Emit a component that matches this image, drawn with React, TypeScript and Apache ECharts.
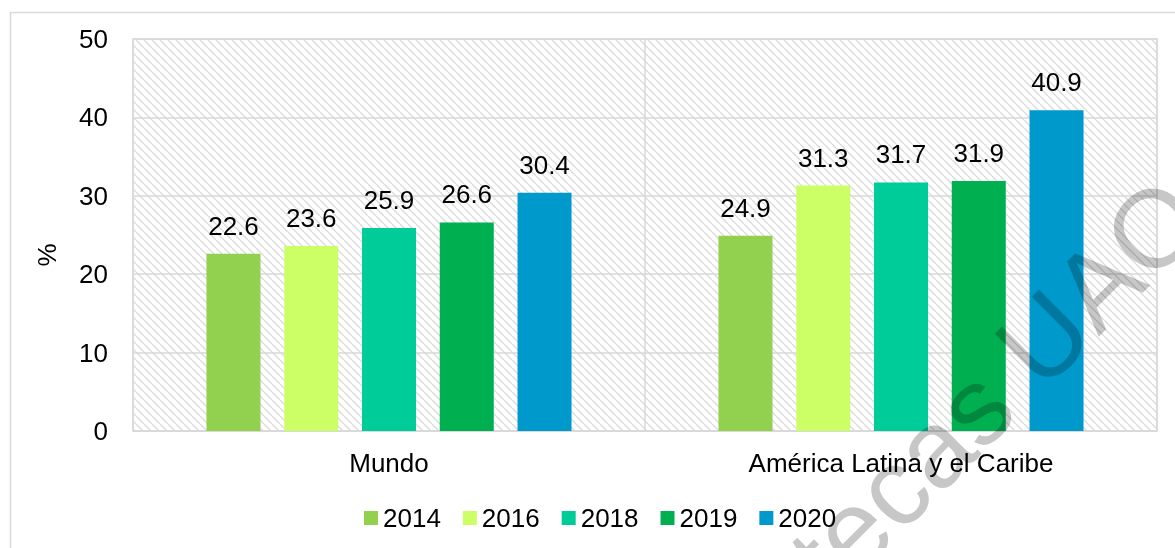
import React, { useEffect, useRef } from "react";
import * as echarts from "echarts";

const categories = ["Mundo", "América Latina y el Caribe"];
const years = ["2014", "2016", "2018", "2019", "2020"];
const v2014 = [22.6, 24.9];
const v2016 = [23.6, 31.3];
const v2018 = [25.9, 31.7];
const v2019 = [26.6, 31.9];
const v2020 = [30.4, 40.9];
const seriesValues = [v2014, v2016, v2018, v2019, v2020];
const colors = ["#92D050", "#CCFF66", "#00CC99", "#00B050", "#0099CC"];
const yTicks = [0, 10, 20, 30, 40, 50];

const FONT = "'Liberation Sans', Arial, sans-serif";

function hatchPattern(): string {
  const c = document.createElement("canvas");
  const s = 8;
  c.width = s;
  c.height = s;
  const ctx = c.getContext("2d")!;
  ctx.fillStyle = "#ffffff";
  ctx.fillRect(0, 0, s, s);
  ctx.strokeStyle = "#dcdcdc";
  ctx.lineWidth = 1.4;
  for (const off of [-s, 0, s]) {
    ctx.beginPath();
    ctx.moveTo(off, 0);
    ctx.lineTo(off + s, s);
    ctx.stroke();
  }
  return c.toDataURL();
}

export default function App() {
  const ref = useRef<HTMLDivElement>(null);
  useEffect(() => {
    if (!ref.current) return;
    const chart = echarts.init(ref.current, undefined, { renderer: "svg" });
    const pattern = hatchPattern();
    const rotation = Math.PI / 4;
    const F = 110;
    const sCenterAlong = 4.585 * F;
    const wx = 974 - sCenterAlong * Math.cos(rotation);
    const wy = 407 + sCenterAlong * Math.sin(rotation);
    chart.setOption({
      animation: false,
      textStyle: { fontFamily: FONT },
      grid: {
        left: 133,
        top: 39,
        width: 1024,
        height: 392,
        show: true,
        backgroundColor: { image: pattern, repeat: "repeat" },
        borderColor: "#d9d9d9",
        borderWidth: 1.5,
      },
      legend: {
        data: years,
        left: 359,
        top: 500,
        itemWidth: 14,
        itemHeight: 14,
        itemGap: 22,
        icon: "rect",
        textStyle: { fontSize: 26, color: "#000", fontFamily: FONT },
      },
      xAxis: {
        type: "category",
        data: categories,
        axisTick: { show: false },
        axisLine: { show: true, lineStyle: { color: "#d9d9d9", width: 1.5 } },
        splitLine: { show: true, lineStyle: { color: "#d9d9d9", width: 1.5 } },
        axisLabel: { fontSize: 26, color: "#000", margin: 19, fontFamily: FONT },
      },
      yAxis: {
        type: "value",
        min: yTicks[0],
        max: yTicks[yTicks.length - 1],
        interval: 10,
        axisLine: { show: false },
        axisTick: { show: false },
        splitLine: { show: true, lineStyle: { color: "#d9d9d9", width: 1.5 } },
        axisLabel: { fontSize: 26, color: "#000", margin: 25, fontFamily: FONT },
      },
      series: years.map((y, i) => ({
        name: y,
        type: "bar",
        data: seriesValues[i],
        barWidth: 54,
        barGap: "44%",
        itemStyle: { color: colors[i] },
        label: {
          show: true,
          position: "top",
          distance: 15,
          fontSize: 26,
          color: "#000",
          fontFamily: FONT,
          formatter: (p: any) => Number(p.value).toFixed(1),
        },
      })),
      graphic: [
        {
          type: "rect",
          left: 8,
          top: 10,
          shape: { x: 0, y: 0, width: 1200, height: 600 },
          style: { fill: "none", stroke: "#d9d9d9", lineWidth: 1.5 },
          silent: true,
          z: 0,
        },
        {
          type: "text",
          x: 47,
          y: 255,
          rotation: Math.PI / 2,
          style: {
            text: "%",
            fontSize: 26,
            fill: "#000",
            fontFamily: FONT,
            textAlign: "center",
            textVerticalAlign: "middle",
          },
          z: 10,
        },
        {
          type: "text",
          x: wx,
          y: wy,
          rotation: rotation,
          z: 100,
          silent: true,
          style: {
            text: "Bibliotecas UAQ",
            fontSize: F,
            fontFamily: FONT,
            fill: "rgba(0,0,0,0.22)",
            textAlign: "left",
            textVerticalAlign: "middle",
          },
        },
      ],
    });
    return () => chart.dispose();
  }, []);
  return (
    <div
      ref={ref}
      style={{ position: "fixed", left: 0, top: 0, width: 1175, height: 548 }}
    />
  );
}
